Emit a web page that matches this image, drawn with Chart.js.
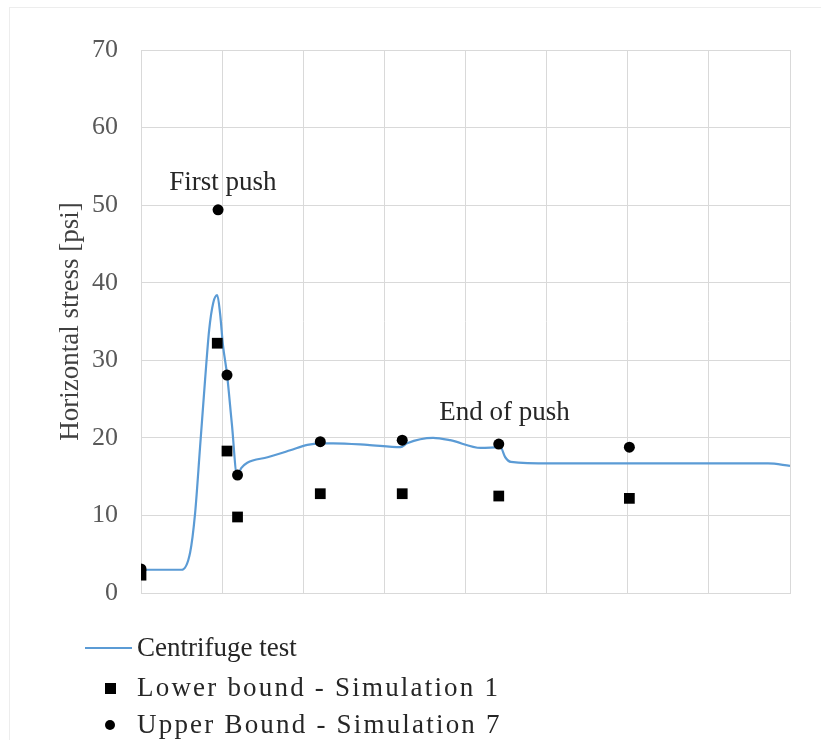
<!DOCTYPE html>
<html><head><meta charset="utf-8">
<script src="https://cdn.jsdelivr.net/npm/chart.js@4.4.0/dist/chart.umd.min.js"></script>
<style>
html,body{margin:0;padding:0;background:#fff;}
#wrap{position:relative;width:821px;height:740px;overflow:hidden;background:#fff;}
#frame{position:absolute;left:9px;top:7px;width:830px;height:800px;border:1px solid #ededed;}
canvas{position:absolute;left:0;top:0;}
.leg{position:absolute;font-family:"Liberation Serif","Times New Roman",serif;font-size:27px;color:#262626;white-space:nowrap;line-height:30px;height:30px;}
.sym{position:absolute;}
</style></head>
<body><div id="wrap"><div id="frame"></div><canvas id="c" width="821" height="740"></canvas><div id="legend"></div></div>
<script>
// ---- data ----
const testX = [0, 0.5, 0.605, 0.667, 0.728, 0.79, 0.84, 0.89, 0.94, 0.975, 1.01, 1.06, 1.12, 1.185, 1.235, 1.31, 1.56, 1.84, 2.05, 2.21, 2.37, 2.79, 3.2, 3.28, 3.6, 3.81, 4.19, 4.43, 4.49, 4.56, 5.05, 6.07, 7.73, 8.0];
const testY = [3.0, 3.0, 5.2, 10.3, 18.8, 27.5, 33.9, 37.4, 38.4, 36.0, 32, 28.2, 21.8, 15.1, 16.1, 16.8, 17.5, 18.4, 19.1, 19.3, 19.3, 19.1, 18.8, 19.3, 20.0, 19.7, 18.7, 18.8, 17.5, 16.9, 16.7, 16.7, 16.7, 16.4];
const lowerX = [0, 0.94, 1.06, 1.19, 2.21, 3.22, 4.41, 6.02];
const lowerY = [2.3, 32.2, 18.3, 9.8, 12.8, 12.8, 12.5, 12.2];
const upperX = [0, 0.95, 1.06, 1.19, 2.21, 3.22, 4.41, 6.02];
const upperY = [3.1, 49.4, 28.1, 15.2, 19.5, 19.7, 19.2, 18.8];
const yTicks = [0, 10, 20, 30, 40, 50, 60, 70];
const seriesNames = ["Centrifuge test", "Lower bound - Simulation 1", "Upper Bound - Simulation 7"];
const yTitle = "Horizontal stress [psi]";
const noteTexts = ["First push", "End of push"];

const pts = (xs, ys) => xs.map((x, i) => ({x: x, y: ys[i]}));
const SERIF = '"Liberation Serif","Times New Roman",serif';
const BLUE = '#5b9bd5';

const notePlugin = {
  id: 'notes',
  afterDatasetsDraw(chart) {
    const {ctx, scales: {x, y}} = chart;
    const spots = [[1.01, 52.9], [4.48, 23.2]];
    ctx.save();
    ctx.font = '27px ' + SERIF;
    ctx.fillStyle = '#262626';
    ctx.textAlign = 'center';
    ctx.textBaseline = 'middle';
    noteTexts.forEach((t, i) => {
      ctx.fillText(t, x.getPixelForValue(spots[i][0]), y.getPixelForValue(spots[i][1]));
    });
    ctx.restore();
  }
};

new Chart(document.getElementById('c'), {
  type: 'scatter',
  data: {
    datasets: [
      {label: seriesNames[1], data: pts(lowerX, lowerY), pointStyle: 'rect', pointRadius: 7.6, pointHoverRadius: 7.6,
       backgroundColor: '#000', borderColor: '#000', borderWidth: 0, showLine: false, order: 1},
      {label: seriesNames[2], data: pts(upperX, upperY), pointStyle: 'circle', pointRadius: 5.5, pointHoverRadius: 5.5,
       backgroundColor: '#000', borderColor: '#000', borderWidth: 0, showLine: false, order: 2},
      {label: seriesNames[0], data: pts(testX, testY), showLine: true, pointRadius: 0, borderColor: BLUE, borderWidth: 2.2,
       backgroundColor: BLUE, cubicInterpolationMode: 'monotone', fill: false, order: 3}
    ]
  },
  options: {
    responsive: false,
    animation: false,
    events: [],
    layout: {padding: {top: 50, bottom: 147, right: 31, left: 0}},
    plugins: {legend: {display: false}, tooltip: {enabled: false}},
    scales: {
      x: {
        type: 'linear', min: 0, max: 8,
        ticks: {stepSize: 1, display: false},
        grid: {color: '#d9d9d9', drawTicks: false},
        border: {color: '#d9d9d9'},
        afterFit: s => { s.height = 0; }
      },
      y: {
        min: 0, max: 70,
        afterBuildTicks: s => { s.ticks = yTicks.map(v => ({value: v})); },
        ticks: {font: {family: SERIF, size: 26}, color: '#595959', padding: 23},
        grid: {color: '#d9d9d9', drawTicks: false},
        border: {color: '#d9d9d9'},
        title: {display: true, text: yTitle, font: {family: SERIF, size: 27}, color: '#404040', padding: {top: 55, bottom: 0}},
        afterFit: s => { s.width = 141; }
      }
    }
  },
  plugins: [notePlugin]
});

// ---- HTML legend ----
const leg = document.getElementById('legend');
const rowsY = [648, 688, 725];
seriesNames.forEach((name, i) => {
  const cy = rowsY[i];
  const sym = document.createElement('div');
  sym.className = 'sym';
  if (i === 0) {
    sym.style.cssText = `left:85px;top:${cy - 1}px;width:47px;height:0;border-top:2.5px solid ${BLUE};`;
  } else if (i === 1) {
    sym.style.cssText = `left:105px;top:${cy - 5}px;width:11px;height:11px;background:#000;`;
  } else {
    sym.style.cssText = `left:105px;top:${cy - 5}px;width:10px;height:10px;background:#000;border-radius:50%;`;
  }
  leg.appendChild(sym);
  const t = document.createElement('div');
  t.className = 'leg';
  t.textContent = name;
  t.style.left = '137px';
  t.style.top = (cy - 16) + 'px';
  if (i > 0) t.style.letterSpacing = '2.2px';
  leg.appendChild(t);
});
</script>
</body></html>
